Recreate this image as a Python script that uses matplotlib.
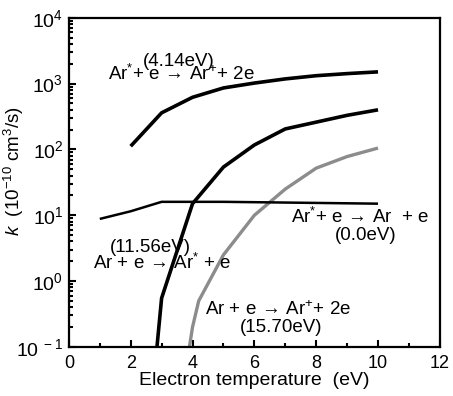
import matplotlib
matplotlib.use("Agg")
import matplotlib.pyplot as plt
import numpy as np
from matplotlib.ticker import LogLocator, MultipleLocator, FixedLocator

plt.rcParams["font.family"] = ["Liberation Sans", "DejaVu Sans"]
plt.rcParams["mathtext.fontset"] = "custom"
plt.rcParams["mathtext.rm"] = "Liberation Sans"
plt.rcParams["mathtext.it"] = "Liberation Sans:italic"

# Ar* + e -> Ar+ + 2e  (4.14 eV)
t_ion_meta = [2, 3, 4, 5, 6, 7, 8, 9, 10]
k_ion_meta = [112, 360, 620, 860, 1020, 1180, 1320, 1420, 1510]

# Ar + e -> Ar* + e  (11.56 eV)
t_exc = [2.85, 3, 4, 5, 6, 7, 8, 9, 10]
k_exc = [0.1, 0.55, 15, 54, 117, 205, 260, 330, 400]

# Ar + e -> Ar+ + 2e  (15.70 eV)
t_ion = [3.9, 4, 4.2, 5, 6, 7, 8, 9, 10]
k_ion = [0.1, 0.2, 0.5, 2.5, 10, 25, 52, 78, 105]

# Ar* + e -> Ar + e  (0.0 eV)
t_deexc = [1, 2, 3, 4, 5, 6, 7, 8, 9, 10]
k_deexc = [8.8, 11.5, 16, 16, 16, 15.8, 15.6, 15.4, 15.2, 15]

ytick_vals = [0.1, 1, 10, 100, 1000, 10000]
ytick_labels = [r"$10^{\ -1}$", r"$10^{0}$", r"$10^{1}$", r"$10^{2}$",
                r"$10^{3}$", r"$10^{4}$"]

fig = plt.figure(figsize=(4.53, 3.96), dpi=100)
ax = fig.add_axes([0.152, 0.124, 0.819, 0.831])

ax.plot(t_ion_meta, k_ion_meta, color="black", lw=2.6, solid_capstyle="butt")
ax.plot(t_exc, k_exc, color="black", lw=2.6, solid_capstyle="butt")
ax.plot(t_ion, k_ion, color="#8c8c8c", lw=2.4, solid_capstyle="butt")
ax.plot(t_deexc, k_deexc, color="black", lw=1.8, solid_capstyle="butt")

ax.set_yscale("log")
ax.set_xlim(0, 12)
ax.set_ylim(0.1, 1e4)

ax.xaxis.set_major_locator(MultipleLocator(2))
ax.xaxis.set_minor_locator(MultipleLocator(1))
ax.yaxis.set_major_locator(FixedLocator(ytick_vals))
ax.yaxis.set_minor_locator(LogLocator(base=10, subs=np.arange(2, 10), numticks=20))
ax.set_yticklabels(ytick_labels)

ax.tick_params(which="both", direction="in", top=False, right=False, width=1.5)
ax.tick_params(which="major", length=5, pad=6)
ax.tick_params(axis="x", which="major", labelsize=13)
ax.tick_params(axis="y", which="major", labelsize=14, pad=4)
ax.tick_params(which="minor", length=3)
for s in ax.spines.values():
    s.set_linewidth(1.6)

ax.set_xlabel("Electron temperature  (eV)", fontsize=14, labelpad=0)
ax.set_ylabel(r"$k$  (10$^{-10}$ cm$^3$/s)", fontsize=13.5)
ax.yaxis.set_label_coords(-0.115, 0.535)

fs = 13.5
arrow = r"$\!\rightarrow\!$"
ax.text(1.26, 10**3.15, "Ar$^{*}$+ e " + arrow + " Ar$^{+}$+ 2e", fontsize=fs, va="center", ha="left")
ax.text(2.4, 10**3.34, "(4.14eV)", fontsize=fs, va="center", ha="left")
ax.text(0.78, 10**0.277, "Ar + e " + arrow + " Ar$^{*}$ + e", fontsize=fs, va="center", ha="left")
ax.text(1.33, 10**0.51, "(11.56eV)", fontsize=fs, va="center", ha="left")
ax.text(7.2, 10**0.976, "Ar$^{*}$+ e " + arrow + " Ar  + e", fontsize=fs, va="center", ha="left")
ax.text(8.6, 10**0.70, "(0.0eV)", fontsize=fs, va="center", ha="left")
ax.text(4.4, 10**-0.44, "Ar + e " + arrow + " Ar$^{+}$+ 2e", fontsize=fs, va="center", ha="left")
ax.text(5.53, 10**-0.70, "(15.70eV)", fontsize=fs, va="center", ha="left")

fig.savefig("out.png", dpi=100)
